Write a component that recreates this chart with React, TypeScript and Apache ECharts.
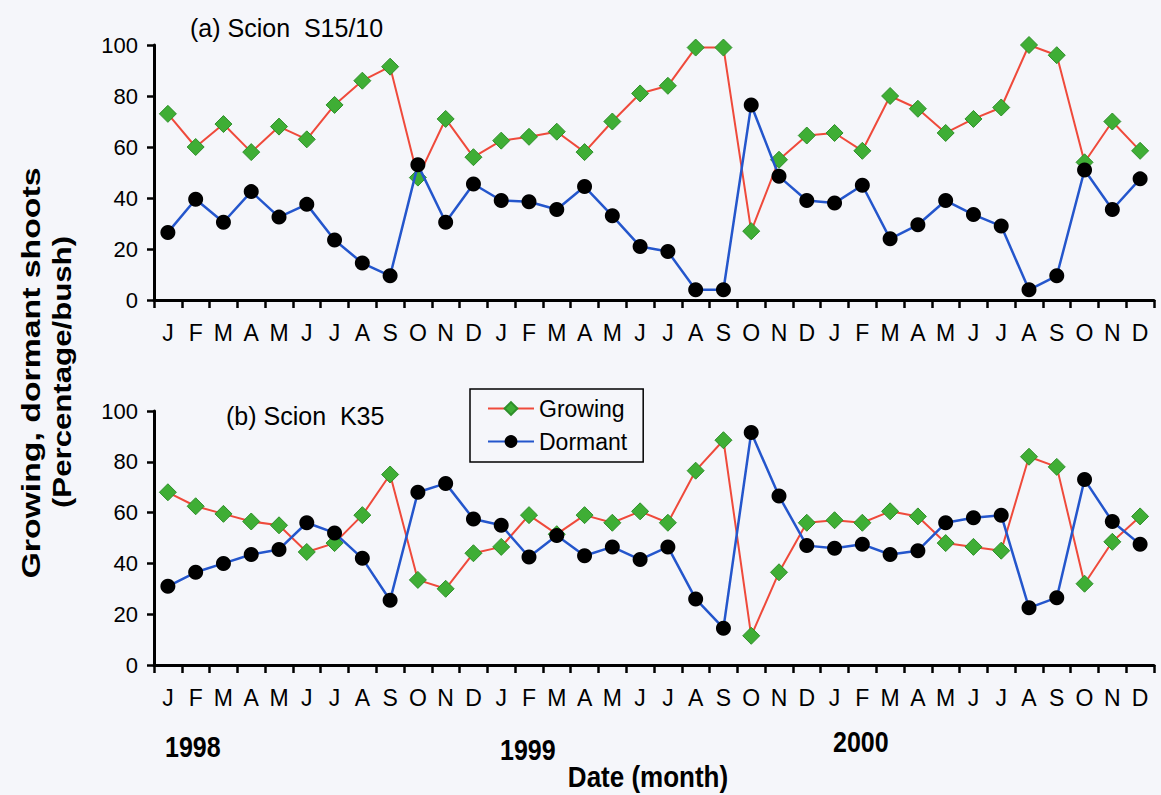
import React, { useEffect, useRef } from "react";
import * as echarts from "echarts";

const FONT = "'Liberation Sans', Arial, sans-serif";

const monthLetters = [
  "J", "F", "M", "A", "M", "J", "J", "A", "S", "O", "N", "D",
  "J", "F", "M", "A", "M", "J", "J", "A", "S", "O", "N", "D",
  "J", "F", "M", "A", "M", "J", "J", "A", "S", "O", "N", "D",
];

const yearLabels = ["1998", "1999", "2000"];
const yTicks = [0, 20, 40, 60, 80, 100];

// Panel (a) Scion S15/10
const growingA = [
  73, 60, 69, 58, 68, 63, 76.5, 86, 91.5, 48, 71, 56,
  62.5, 64, 66, 58, 70, 81, 84, 99, 99, 27, 55, 64.5,
  65.5, 58.5, 80, 75, 65.5, 71, 75.5, 100, 96, 54, 70, 58.5,
];
const dormantA = [
  26.5, 39.5, 30.5, 42.5, 32.5, 37.5, 23.5, 14.5, 9.5, 53, 30.5, 45.5,
  39, 38.5, 35.5, 44.5, 33, 21, 19, 4, 4, 76.5, 48.5, 39,
  38, 45, 24, 29.5, 39, 33.5, 29, 4, 9.5, 51, 35.5, 47.5,
];

// Panel (b) Scion K35
const growingB = [
  68, 62.5, 59.5, 56.5, 55, 44.5, 48, 59, 75, 33.5, 30, 44,
  46.5, 59, 51.5, 59, 56, 60.5, 56, 76.5, 88.5, 11.5, 36.5, 56,
  57, 56, 60.5, 58.5, 48, 46.5, 45, 82, 78, 32, 48.5, 58.5,
];
const dormantB = [
  31, 36.5, 40, 43.5, 45.5, 56, 52, 42, 25.5, 68, 71.5, 57.5,
  55, 42.5, 51, 43, 46.5, 41.5, 46.5, 26, 14.5, 91.5, 66.5, 47,
  46, 47.5, 43.5, 45, 56, 58, 59, 22.5, 26.5, 73, 56.5, 47.5,
];

const panelTitles = ["(a) Scion  S15/10", "(b) Scion  K35"];
const seriesNames = ["Growing", "Dormant"];
const yTitle = ["Growing, dormant shoots", "(Percentage/bush)"];
const xTitle = "Date (month)";

export default function App() {
  const ref = useRef<HTMLDivElement>(null);

  useEffect(() => {
    if (!ref.current) return;
    const chart = echarts.init(ref.current, undefined, { renderer: "svg" });

    const xAxisBase = (gridIndex: number) => ({
      type: "category",
      gridIndex,
      data: monthLetters,
      boundaryGap: true,
      axisLine: { show: true, lineStyle: { color: "#000", width: 3 } },
      axisTick: { show: true, length: 8, lineStyle: { color: "#000", width: 2.5 } },
      axisLabel: {
        interval: 0,
        fontSize: 23,
        color: "#000",
        margin: 21,
        fontFamily: FONT,
      },
      splitLine: { show: false },
    });

    const yAxisBase = (gridIndex: number) => ({
      type: "value",
      gridIndex,
      min: yTicks[0],
      max: yTicks[yTicks.length - 1],
      interval: yTicks[1] - yTicks[0],
      axisLine: { show: true, lineStyle: { color: "#000", width: 3 } },
      axisTick: { show: true, length: 7, lineStyle: { color: "#000", width: 2.5 } },
      axisLabel: { fontSize: 22, color: "#000", margin: 16, fontFamily: FONT },
      splitLine: { show: false },
    });

    const growingStyle = {
      type: "line",
      name: seriesNames[0],
      symbol: "diamond",
      symbolSize: [17, 17],
      showAllSymbol: true,
      itemStyle: { color: "#3fae35", borderColor: "#2e8f2a", borderWidth: 1 },
      lineStyle: { color: "#ef4a3b", width: 2 },
      z: 2,
    };
    const dormantStyle = {
      type: "line",
      name: seriesNames[1],
      symbol: "circle",
      symbolSize: 15,
      showAllSymbol: true,
      itemStyle: { color: "#000" },
      lineStyle: { color: "#2456cc", width: 2.5 },
      z: 3,
    };

    const boldText = (
      text: string,
      x: number,
      y: number,
      size: number,
      align: string,
      extra: any = {}
    ) => ({
      type: "text",
      x,
      y,
      ...extra,
      style: {
        text,
        fontSize: size,
        fontWeight: "bold",
        fontFamily: FONT,
        fill: "#000",
        align,
        verticalAlign: "middle",
      },
    });

    const option: any = {
      animation: false,
      backgroundColor: "#f5f6fa",
      textStyle: { fontFamily: FONT },
      title: [
        {
          text: panelTitles[0],
          left: 185,
          top: 10,
          textStyle: { fontSize: 25, fontWeight: "normal", color: "#000", fontFamily: FONT },
        },
        {
          text: panelTitles[1],
          left: 221,
          top: 398,
          textStyle: { fontSize: 25, fontWeight: "normal", color: "#000", fontFamily: FONT },
        },
      ],
      legend: {
        data: seriesNames,
        orient: "vertical",
        left: 470,
        top: 389,
        itemWidth: 46,
        itemHeight: 16,
        itemGap: 10,
        padding: [8, 16, 9, 17],
        borderColor: "#000",
        borderWidth: 1.5,
        textStyle: { fontSize: 23, color: "#000", fontFamily: FONT },
      },
      grid: [
        { left: 154, right: 7, top: 45, height: 255, containLabel: false },
        { left: 154, right: 7, top: 411, height: 254, containLabel: false },
      ],
      xAxis: [xAxisBase(0), xAxisBase(1)],
      yAxis: [yAxisBase(0), yAxisBase(1)],
      series: [
        { ...growingStyle, xAxisIndex: 0, yAxisIndex: 0, data: growingA },
        { ...dormantStyle, xAxisIndex: 0, yAxisIndex: 0, data: dormantA },
        { ...growingStyle, xAxisIndex: 1, yAxisIndex: 1, data: growingB },
        { ...dormantStyle, xAxisIndex: 1, yAxisIndex: 1, data: dormantB },
      ],
      graphic: [
        boldText(yTitle[0], 31, 373, 26, "center", { rotation: Math.PI / 2, scaleX: 1.3 }),
        boldText(yTitle[1], 62, 372, 26, "center", { rotation: Math.PI / 2, scaleX: 1.2 }),
        boldText(yearLabels[0], 165, 747, 25, "left", { scaleY: 1.2 }),
        boldText(yearLabels[1], 500, 750, 25, "left", { scaleY: 1.2 }),
        boldText(yearLabels[2], 833, 742, 25, "left", { scaleY: 1.2 }),
        boldText(xTitle, 648, 777, 26, "center", { scaleY: 1.1 }),
      ],
    };

    chart.setOption(option);
    return () => chart.dispose();
  }, []);

  return (
    <div
      ref={ref}
      style={{ position: "absolute", left: 0, top: 0, width: 1161, height: 795 }}
    />
  );
}
